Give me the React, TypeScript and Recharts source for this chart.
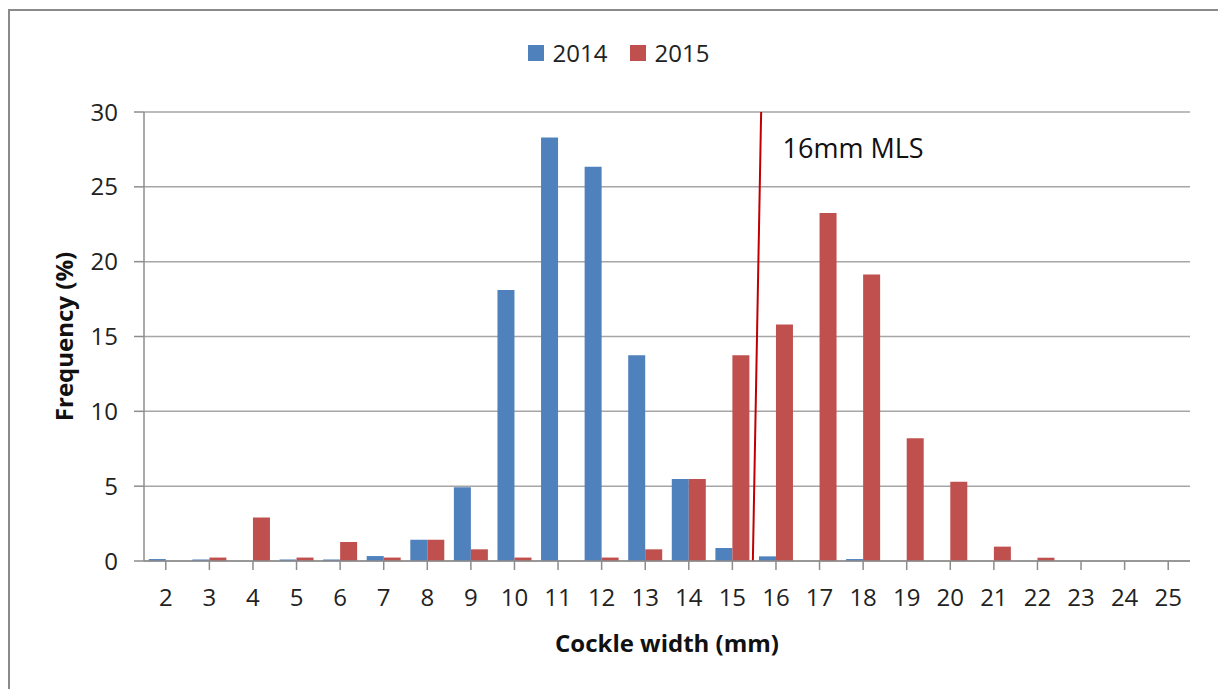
import React from 'react';
import {
  BarChart,
  Bar,
  XAxis,
  YAxis,
  CartesianGrid,
  Legend,
  ReferenceLine,
  ReferenceDot,
  Label,
} from 'recharts';

const categories = ['2', '3', '4', '5', '6', '7', '8', '9', '10', '11', '12', '13', '14', '15', '16', '17', '18', '19', '20', '21', '22', '23', '24', '25'];
const freq2014 = [0.13, 0.1, 0, 0.1, 0.1, 0.33, 1.42, 4.93, 18.1, 28.3, 26.35, 13.75, 5.48, 0.87, 0.31, 0, 0.13, 0, 0, 0, 0, 0, 0, 0];
const freq2015 = [0, 0.23, 2.9, 0.23, 1.27, 0.23, 1.42, 0.78, 0.23, 0, 0.23, 0.78, 5.48, 13.75, 15.8, 23.25, 19.15, 8.2, 5.3, 0.96, 0.22, 0, 0, 0];
const yTicks = [0, 5, 10, 15, 20, 25, 30];
const seriesNames = ['2014', '2015'];
const seriesColors = ['#4F81BD', '#C0504D'];
const mlsLine = [{ x: 15.47, y: 0 }, { x: 15.66, y: 30 }];
const mlsLabel = { x: 17.77, y: 27.6, text: '16mm MLS' };

const data = categories.map((c, i) => ({ cat: c, num: Number(c), y2014: freq2014[i], y2015: freq2015[i] }));

const FONT = '"Open Sans", "Liberation Sans", sans-serif';

const LegendContent = () => (
  <div style={{ display: 'flex', justifyContent: 'center', alignItems: 'center', fontFamily: FONT, fontSize: 24, color: '#222', paddingLeft: 19 }}>
    {seriesNames.map((n, i) => (
      <div key={n} style={{ display: 'flex', alignItems: 'center', marginRight: i === 0 ? 22 : 0 }}>
        <span style={{ display: 'inline-block', width: 16, height: 16, background: seriesColors[i], marginRight: 9 }} />
        <span>{n}</span>
      </div>
    ))}
  </div>
);

export default function App() {
  return (
    <div style={{ position: 'absolute', left: 0, top: 0, width: 1218, height: 689, overflow: 'hidden', background: '#fff' }}>
      <div style={{ position: 'absolute', left: 8, top: 9, width: 1300, height: 800, border: '2px solid #8a8a8a', boxSizing: 'border-box' }} />
      <div style={{ position: 'absolute', left: 0, top: 0 }}>
        <BarChart
          width={1218}
          height={689}
          data={data}
          margin={{ top: 112, right: 28, bottom: 28, left: 40 }}
          barCategoryGap="11%"
          barGap={0}
          style={{ fontFamily: FONT }}
        >
          <CartesianGrid vertical={false} stroke="#a6a6a6" strokeWidth={1.5} />
          <XAxis
            dataKey="cat"
            height={100}
            tickSize={9}
            tickMargin={19}
            tick={{ fontSize: 24, fill: '#222', fontFamily: FONT }}
            axisLine={{ stroke: '#8c8c8c', strokeWidth: 1.5 }}
            tickLine={{ stroke: '#8c8c8c', strokeWidth: 1.5 }}
            interval={0}
          >
            <Label value="Cockle width (mm)" position="center" dy={32} style={{ fontSize: 24, fontWeight: 'bold', fill: '#111', fontFamily: FONT }} />
          </XAxis>
          <XAxis xAxisId="n" dataKey="num" type="number" domain={[1.5, 25.5]} hide allowDataOverflow padding={{ left: 0, right: 0 }} />
          <YAxis
            width={104}
            domain={[0, 30]}
            ticks={yTicks}
            tickSize={10}
            tickMargin={16}
            tick={{ fontSize: 24, fill: '#222', fontFamily: FONT }}
            axisLine={{ stroke: '#8c8c8c', strokeWidth: 1.5 }}
            tickLine={{ stroke: '#8c8c8c', strokeWidth: 1.5 }}
            interval={0}
          >
            <Label value="Frequency (%)" position="center" angle={-90} dx={-28} style={{ fontSize: 24, fontWeight: 'bold', fill: '#111', fontFamily: FONT, textAnchor: 'middle' }} />
          </YAxis>
          <Legend verticalAlign="middle" wrapperStyle={{ top: 36, left: 0, width: 1218 }} content={<LegendContent />} />
          <Bar dataKey="y2014" name={seriesNames[0]} fill={seriesColors[0]} isAnimationActive={false} />
          <Bar dataKey="y2015" name={seriesNames[1]} fill={seriesColors[1]} isAnimationActive={false} />
          <ReferenceLine xAxisId="n" segment={mlsLine} stroke="#C00000" strokeWidth={2} ifOverflow="visible" />
          <ReferenceDot
            xAxisId="n"
            x={mlsLabel.x}
            y={mlsLabel.y}
            r={0}
            fill="none"
            stroke="none"
            ifOverflow="visible"
            label={{ value: mlsLabel.text, position: 'center', fontSize: 27, fill: '#111', fontFamily: FONT }}
          />
        </BarChart>
      </div>
    </div>
  );
}
